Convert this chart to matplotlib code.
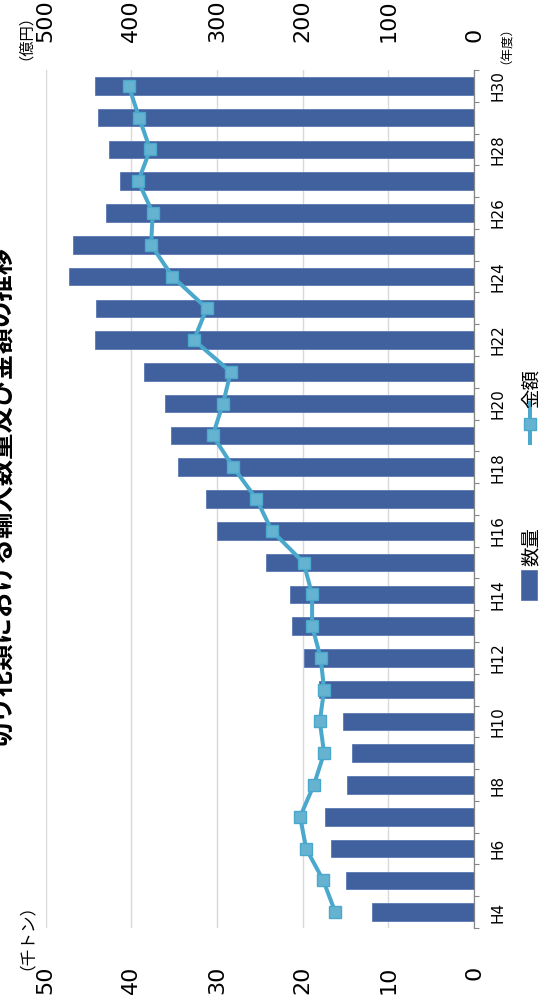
import matplotlib
matplotlib.use('Agg')
import matplotlib.pyplot as plt
from matplotlib.patches import Rectangle
from matplotlib.lines import Line2D

plt.rcParams['font.family'] = ['DejaVu Sans', 'Noto Sans CJK JP']
JP = ['Noto Sans CJK JP', 'DejaVu Sans']

# 年度 (平成)
years = ['H4', 'H5', 'H6', 'H7', 'H8', 'H9', 'H10', 'H11', 'H12', 'H13', 'H14',
         'H15', 'H16', 'H17', 'H18', 'H19', 'H20', 'H21', 'H22', 'H23', 'H24',
         'H25', 'H26', 'H27', 'H28', 'H29', 'H30']
# 数量 (千トン)
quantity = [11.9, 15.0, 16.7, 17.4, 14.8, 14.2, 15.3, 18.1, 19.8, 21.2, 21.5,
            24.3, 30.0, 31.3, 34.5, 35.4, 36.1, 38.5, 44.2, 44.1, 47.3,
            46.8, 43.0, 41.3, 42.6, 43.9, 44.3]
# 金額 (億円)
amount = [162, 176, 196, 203, 187, 175, 180, 175, 179, 189, 189,
          199, 236, 254, 281, 305, 293, 284, 327, 312, 352,
          377, 375, 392, 378, 391, 403]

BAR = '#41609E'
BAR_EDGE = '#5B79B3'
LINE = '#4AA8CC'
MARK = '#66B2D1'
GRAY = '#868686'

W, H = 539, 998
fig = plt.figure(figsize=(W / 100, H / 100), dpi=100)
ax = fig.add_axes([45.7 / W, 1 - 928 / H, (474 - 45.7) / W, 858 / H])

pos = list(range(len(years)))
ax.barh(pos, quantity, height=0.55, color=BAR, edgecolor=BAR_EDGE,
        linewidth=0.6, zorder=2)
ax.set_xlim(50, 0)
ax.set_ylim(-0.5, len(years) - 0.5)
ax.set_xticks(range(0, 51, 10))
ax.grid(axis='x', color='#D9D9D9', linewidth=1.0)
ax.set_axisbelow(True)
for s in ['left', 'top', 'bottom']:
    ax.spines[s].set_visible(False)
ax.spines['right'].set_color(GRAY)
ax.spines['right'].set_linewidth(0.9)
ax.tick_params(axis='x', length=0, labelsize=16, labelrotation=90, pad=27)

# category axis on the right: ticks between years, labels every other year
ax.yaxis.tick_right()
ax.set_yticks([i - 0.5 for i in range(len(years) + 1)])
ax.set_yticklabels([])
ax.set_yticks(pos[::2], minor=True)
ax.set_yticklabels(years[::2], minor=True)
ax.tick_params(axis='y', which='major', length=3.6, color=GRAY, width=0.8,
               direction='out')
ax.tick_params(axis='y', which='minor', length=0, labelsize=11, pad=12)
plt.setp(ax.get_yticklabels(minor=True), rotation=90, va='center')

# 金額 on the secondary axis
ax2 = ax.twiny()
ax2.plot(amount, pos, color=LINE, linewidth=2.9, marker='s', markersize=9,
         markerfacecolor=MARK, markeredgecolor=LINE, markeredgewidth=1,
         zorder=3)
ax2.set_xlim(500, 0)
ax2.set_xticks(range(0, 501, 100))
ax2.tick_params(axis='x', length=0, labelsize=16, labelrotation=90, pad=20)
for s in ax2.spines.values():
    s.set_visible(False)

# title and unit labels
fig.text(3 / W, 1 - 497 / H, '切り花類における輸入数量及び金額の推移', rotation=90,
         ha='center', va='center', fontsize=19, fontweight='bold', family=JP)
fig.text(17 / W, 1 - 30 / H, '（億円）', rotation=90, ha='center', va='center',
         fontsize=11, family=JP)
fig.text(18 / W, 1 - 928 / H, '（千トン）', rotation=90, ha='center', va='center',
         fontsize=12, family=JP)
fig.text(500 / W, 1 - 39 / H, '（年度）', rotation=90, ha='center', va='center',
         fontsize=9, family=JP)

# legend
fig.add_artist(Rectangle((521 / W, 1 - 600 / H), 16 / W, 30 / H,
                         transform=fig.transFigure, facecolor=BAR,
                         edgecolor=BAR_EDGE, linewidth=0.6))
fig.text(531 / W, 1 - 566 / H, '数量', rotation=90, ha='center', va='bottom',
         fontsize=14, family=JP)
fig.add_artist(Line2D([529.5 / W, 529.5 / W], [1 - 443 / H, 1 - 403 / H],
                      transform=fig.transFigure, color=LINE, linewidth=2.9))
fig.add_artist(Line2D([529.5 / W], [1 - 424 / H], transform=fig.transFigure,
                      marker='s', markersize=9, markerfacecolor=MARK,
                      markeredgecolor=LINE, markeredgewidth=1))
fig.text(531 / W, 1 - 408 / H, '金額', rotation=90, ha='center', va='bottom',
         fontsize=14, family=JP)

fig.savefig('out.png', dpi=100)
